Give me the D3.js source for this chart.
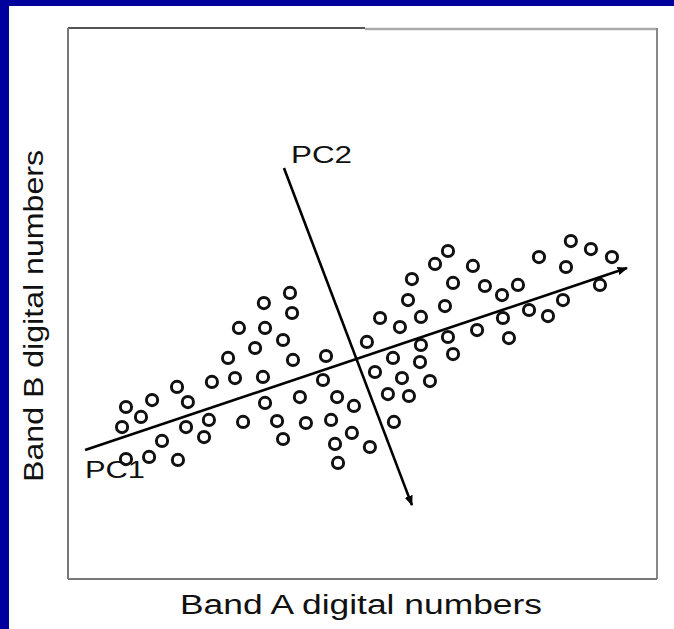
<!DOCTYPE html>
<html><head><meta charset="utf-8">
<script src="https://cdn.jsdelivr.net/npm/d3@7"></script>
<style>body{margin:0;background:#fff}svg{display:block}text{font-family:"Liberation Sans",Arial,sans-serif;fill:#111}</style>
</head><body>
<script>
// Band A / Band B digital numbers (0-255 scale)
const bandA = [25.1,36.4,31.6,23.4,47.2,51.9,62.3,69.3,72.3,51.1,61.0,58.9,40.7,35.1,25.1,47.6,75.8,
  84.8,96.1,97.0,74.0,85.3,93.1,81.0,97.4,84.4,85.3,90.5,93.1,100.4,103.0,111.7,110.4,116.5,113.9,123.8,122.9,115.6,116.9,129.4,130.7,
  132.9,140.7,152.4,144.6,156.7,138.5,147.6,141.1,135.1,152.8,143.7,147.2,148.9,158.9,164.5,175.3,166.7,180.5,163.2,164.5,177.1,166.7,152.8,
  217.7,226.4,235.5,203.9,215.6,194.8,187.9,230.3,214.3,188.3,199.6,207.8,190.9];
const bandB = [79.6,82.8,75.0,70.3,88.9,81.9,91.2,102.3,93.0,70.3,73.6,65.7,63.9,56.5,55.5,55.1,72.7,
  127.7,132.4,123.1,116.2,116.2,110.6,106.9,101.4,93.5,81.5,73.1,64.8,84.2,72.2,103.2,92.1,84.2,73.6,80.1,67.6,62.5,53.7,109.7,61.1,
  95.8,102.3,100.4,93.0,91.6,85.6,84.7,72.7,120.8,121.3,116.6,129.1,138.8,145.8,151.8,144.9,137.0,135.6,126.3,112.0,115.2,104.1,108.3,
  156.4,152.7,149.0,149.0,144.4,136.1,131.4,136.1,129.1,120.8,124.5,121.7,111.5];
// principal component axes (start, end) in band units
const pc1 = [[7.4,59.7],[242.0,143.9]];
const pc2 = [[93.5,190.2],[148.9,34.2]];
const xLabel = "Band  A digital numbers";
const yLabel = "Band  B digital numbers";

const W = 674, H = 629;
const svg = d3.select("body").append("svg").attr("width",W).attr("height",H);
svg.append("rect").attr("width",W).attr("height",H).attr("fill","#00009c");
svg.append("rect").attr("x",9).attr("y",6).attr("width",W-9).attr("height",H-6).attr("fill","#fff");

const L=68,R=657,T=28,B=579;
const x = d3.scaleLinear().domain([0,255]).range([L,R]);
const y = d3.scaleLinear().domain([0,255]).range([B,T]);

// frame
const g = svg.append("g");
g.append("line").attr("x1",L).attr("x2",365).attr("y1",T).attr("y2",T).attr("stroke","#555").attr("stroke-width",2);
g.append("line").attr("x1",365).attr("x2",R).attr("y1",T+1).attr("y2",T+1).attr("stroke","#aaa").attr("stroke-width",2.5);
g.append("line").attr("x1",L).attr("x2",L).attr("y1",T).attr("y2",B).attr("stroke","#777").attr("stroke-width",2);
g.append("line").attr("x1",R).attr("x2",R).attr("y1",T).attr("y2",B).attr("stroke","#888").attr("stroke-width",2);
g.append("line").attr("x1",L).attr("x2",R).attr("y1",B).attr("y2",B).attr("stroke","#777").attr("stroke-width",2);

// arrow marker
svg.append("defs").append("marker").attr("id","arr").attr("viewBox","0 0 10 10").attr("refX",9).attr("refY",5)
  .attr("markerWidth",4).attr("markerHeight",4).attr("orient","auto")
  .append("path").attr("d","M0,1L10,5L0,9z").attr("fill","#000");

const pts = bandA.map((a,i)=>({a,b:bandB[i]}));
svg.append("g").selectAll("circle").data(pts).join("circle")
  .attr("cx",d=>x(d.a)).attr("cy",d=>y(d.b)).attr("r",5.6)
  .attr("fill","#fff").attr("stroke","#111").attr("stroke-width",3);

const line = d3.line().x(d=>x(d[0])).y(d=>y(d[1]));
[pc1,pc2].forEach(p=>svg.append("path").attr("d",line(p)).attr("fill","none")
  .attr("stroke","#000").attr("stroke-width",2.6).attr("marker-end","url(#arr)"));

svg.append("text").attr("x",291).attr("y",163).attr("font-size",24).attr("textLength",61).attr("lengthAdjust","spacingAndGlyphs").text("PC2");
svg.append("text").attr("x",85).attr("y",478).attr("font-size",24).attr("textLength",60).attr("lengthAdjust","spacingAndGlyphs").text("PC1");
svg.append("text").attr("x",180).attr("y",614).attr("font-size",27).attr("textLength",362).attr("lengthAdjust","spacingAndGlyphs").text(xLabel);
svg.append("text").attr("transform","translate(43,482) rotate(-90)").attr("font-size",27).attr("textLength",332).attr("lengthAdjust","spacingAndGlyphs").text(yLabel);
</script>
</body></html>
